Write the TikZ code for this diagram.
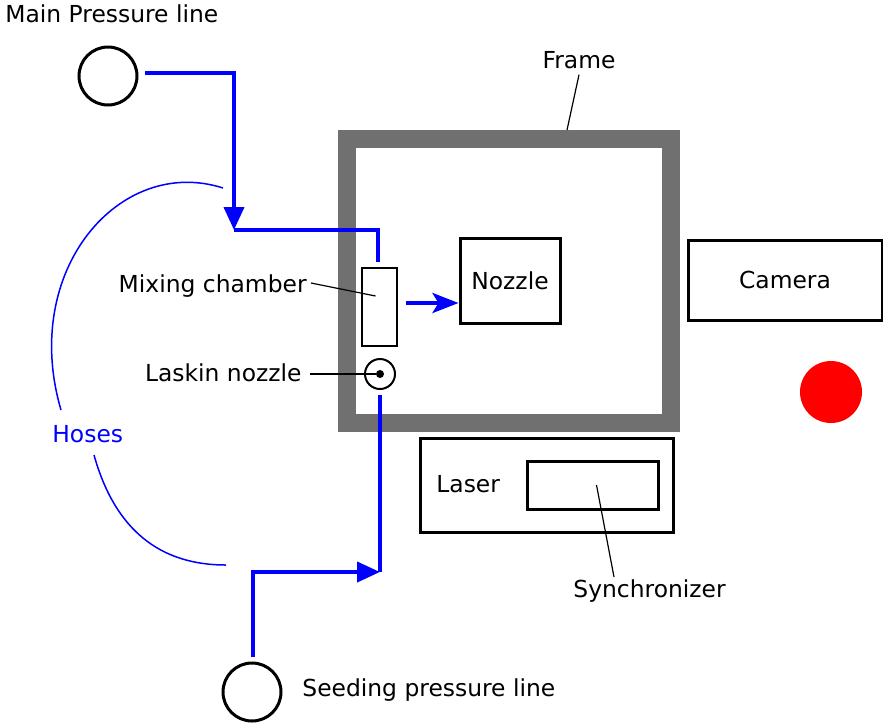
\documentclass[tikz,border=0pt]{standalone}
\usepackage{fontspec}
\setmainfont{DejaVu Sans}
\usetikzlibrary{positioning,arrows.meta}

\definecolor{framegray}{RGB}{112,112,112}
\definecolor{hoseblue}{RGB}{0,0,255}

\begin{document}
\begin{tikzpicture}[x=0.5pt,y=-0.5pt,font=\fontsize{11.7}{14}\selectfont,
  box/.style={draw,line width=1.5pt,inner sep=0pt},
  port/.style={circle,draw,line width=1.5pt,minimum size=29pt,inner sep=0pt},
  lbl/.style={inner sep=0pt},
  pipe/.style={draw=hoseblue,line width=2pt},
  flow/.style={pipe,-{Triangle[length=11.5pt,width=10pt]}},
  leader/.style={draw,line width=0.6pt},
  hose/.style={draw=hoseblue,line width=0.75pt}]
  \useasboundingbox (0,0) rectangle (883,724);
  % frame
  \draw[framegray,line width=9pt] (347,139) rectangle (671,423);
  \node[lbl,anchor=base] (framelbl) at (579,68) {Frame};
  \coordinate (frametop) at (567,130);
  \draw[leader] ([yshift=-3pt]framelbl.south) -- (frametop);
  % boxes
  \node[box,line width=1.25pt,minimum width=17.5pt,minimum height=39pt] (mix) at (379.5,307) {};
  \node[box,minimum width=50pt,minimum height=42.5pt] (nozzle) at (510,280.5) {Nozzle};
  \node[box,minimum width=97pt,minimum height=40pt] (camera) at (785,280) {Camera};
  \node[box,minimum width=126.5pt,minimum height=47pt] (laser) at (546.5,485) {};
  \node[lbl,anchor=base west] (laserlbl) at (436,492) {Laser};
  \node[box,minimum width=65.5pt,minimum height=24pt] (sync) at (592.5,485) {};
  \node[circle,draw,line width=1pt,minimum size=15pt,inner sep=0pt] (laskin) at (380,374) {};
  \node[circle,fill,minimum size=4pt,inner sep=0pt] (dot) at (laskin.center) {};
  \node[circle,fill=red,minimum size=31pt,inner sep=0pt] (light) at (831,392) {};
  % ports
  \node[port] (main) at (108,76) {};
  \node[lbl,anchor=base west] (mainlbl) at (5,22) {Main Pressure line};
  \node[port] (seed) at (252,692) {};
  \node[lbl,anchor=base west] (seedlbl) at (302,696) {Seeding pressure line};
  % labels
  \node[lbl,anchor=base east] (mixlbl) at (307,292) {Mixing chamber};
  \draw[leader] ([xshift=2pt]mixlbl.east |- 0,283) -- ([shift={(-2pt,5.5pt)}]mix.center);
  \node[lbl,anchor=base east] (laskinlbl) at (302,381) {Laskin nozzle};
  \draw[leader] ([xshift=4pt]laskinlbl.east |- dot) -- (dot);
  \node[lbl,anchor=base west] (synclbl) at (573,597) {Synchronizer};
  \coordinate (syncfoot) at (614,577);
  \draw[leader] ([xshift=2pt]sync.center) -- (syncfoot);
  % main line
  \coordinate (mainout) at (145,73);
  \coordinate (bendA) at (234,73);
  \coordinate (junA) at (234,230);
  \coordinate (bendB) at (378,230);
  \coordinate (mixin) at (378,262);
  \draw[flow] (mainout) -- (bendA) -- (junA);
  \draw[pipe] (junA) -- (bendB) -- (mixin);
  % seeding line
  \coordinate (seedout) at (253,657);
  \coordinate (bendC) at (253,572);
  \coordinate (junB) at (380,572);
  \coordinate (laskinout) at (380,395);
  \draw[flow] (seedout) -- (bendC) -- (junB);
  \draw[pipe] (junB) -- (laskinout);
  \draw[pipe,-{Stealth[length=13pt,width=10pt,inset=3pt]}] ([shift={(4pt,2pt)}]mix.east) -- ([yshift=2pt]mix.east -| nozzle.west);
  % hoses
  \node[lbl,anchor=base west,text=hoseblue] (hoselbl) at (52,442) {Hoses};
  \draw[hose] (223,188) .. controls (120,155) and (20,270) .. (61,410);
  \draw[hose] (94,455) .. controls (115,530) and (160,565) .. (226,565);
\end{tikzpicture}
\end{document}
